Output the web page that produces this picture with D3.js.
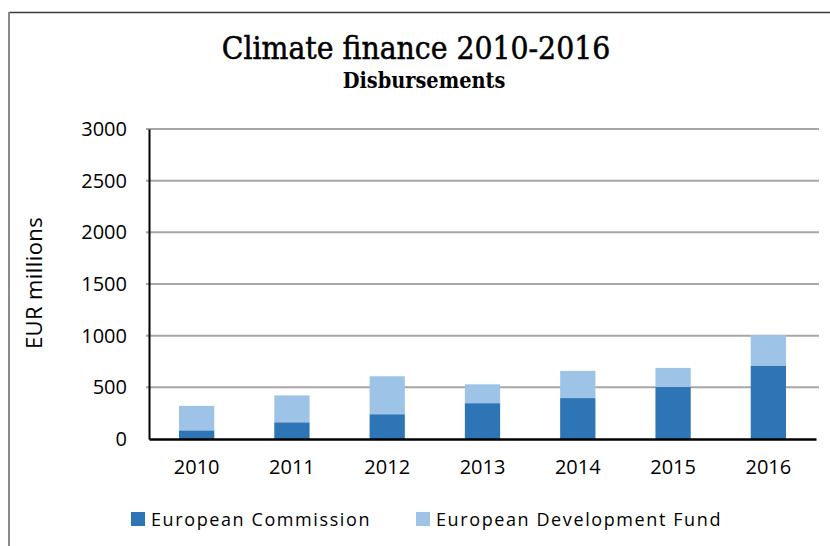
<!DOCTYPE html>
<html>
<head>
<meta charset="utf-8">
<script src="https://cdn.jsdelivr.net/npm/d3@7"></script>
<style>
  html, body { margin: 0; padding: 0; background: #ffffff; }
  svg { display: block; }
</style>
</head>
<body>
<svg id="chart" width="830" height="546"></svg>
<script>
// Climate finance disbursements, EUR millions
const years = ["2010", "2011", "2012", "2013", "2014", "2015", "2016"];
const commission = [84, 162, 240, 347, 396, 503, 711];
const developmentFund = [237, 260, 367, 182, 263, 185, 295];
const yTicks = [0, 500, 1000, 1500, 2000, 2500, 3000];
const seriesNames = ["European Commission", "European Development Fund"];
const seriesColors = ["#2e75b6", "#9dc3e6"];

const svg = d3.select("#chart");
const W = 830, H = 546;
const margin = { left: 149, right: 14, top: 129, bottom: 107 };
const plotW = W - margin.left - margin.right;
const plotH = H - margin.top - margin.bottom;

// Outer frame (top and left edges)
svg.append("line").attr("x1", 9).attr("x2", W).attr("y1", 12.5).attr("y2", 12.5)
  .attr("stroke", "#3a3a3a").attr("stroke-width", 1.5);
svg.append("line").attr("x1", 9).attr("x2", 9).attr("y1", 12).attr("y2", H)
  .attr("stroke", "#8a8a8a").attr("stroke-width", 2);

// Titles
svg.append("text").attr("x", 416).attr("y", 59).attr("text-anchor", "middle")
  .style("font-family", "'DejaVu Serif', serif").style("font-stretch", "condensed")
  .style("font-size", "31.5px").attr("fill", "#000")
  .attr("stroke", "#000").attr("stroke-width", 0.5)
  .text("Climate finance 2010-2016");
svg.append("text").attr("x", 424).attr("y", 88).attr("text-anchor", "middle")
  .style("font-family", "'DejaVu Serif', serif").style("font-stretch", "condensed")
  .style("font-size", "21.5px").style("font-weight", "bold").attr("fill", "#000")
  .text("Disbursements");

const g = svg.append("g").attr("transform", `translate(${margin.left},${margin.top})`);

const x = d3.scaleBand().domain(years).range([0, plotW]).paddingInner(0.63).paddingOuter(0.315);
const y = d3.scaleLinear().domain([0, 3000]).range([plotH, 0]);

// Gridlines
g.append("g").selectAll("line").data(yTicks.filter(d => d > 0)).join("line")
  .attr("x1", -3).attr("x2", plotW + 3)
  .attr("y1", d => y(d)).attr("y2", d => y(d))
  .attr("stroke", "#a6a6a6").attr("stroke-width", 2);

// Stacked bars
const rows = years.map((yr, i) => ({ year: yr, ec: commission[i], edf: developmentFund[i] }));
const stack = d3.stack().keys(["ec", "edf"])(rows);
g.append("g").selectAll("g").data(stack).join("g")
  .attr("fill", (d, i) => seriesColors[i])
  .selectAll("rect").data(d => d).join("rect")
  .attr("x", d => x(d.data.year))
  .attr("width", x.bandwidth())
  .attr("y", d => y(d[1]))
  .attr("height", d => y(d[0]) - y(d[1]));

// Axes
const tickFont = "'Open Sans', 'Liberation Sans', sans-serif";
const yAxis = g.append("g").call(d3.axisLeft(y).tickValues(yTicks).tickFormat(d3.format("d")).tickSize(0).tickPadding(22));
yAxis.select(".domain").attr("stroke", "#000").attr("stroke-width", 2);
yAxis.selectAll("text").style("font-family", tickFont).style("font-size", "20px").attr("fill", "#000");

const xAxis = g.append("g").attr("transform", `translate(0,${plotH})`)
  .call(d3.axisBottom(x).tickSize(0).tickPadding(21));
xAxis.select(".domain").attr("stroke", "#000").attr("stroke-width", 2.5);
xAxis.selectAll("text").style("font-family", tickFont).style("font-size", "20px").attr("fill", "#000");

// Y axis title
svg.append("text").attr("transform", "translate(33,283) rotate(-90)")
  .attr("text-anchor", "middle").attr("dominant-baseline", "central")
  .style("font-family", tickFont).style("font-size", "22px").style("letter-spacing", "0.4px")
  .attr("fill", "#000")
  .text("EUR millions");

// Legend
const legendX = [131, 416];
const legend = svg.append("g").selectAll("g").data(seriesNames).join("g")
  .attr("transform", (d, i) => `translate(${legendX[i]},512)`);
legend.append("rect").attr("width", 14).attr("height", 14)
  .attr("fill", (d, i) => seriesColors[i]);
legend.append("text").attr("x", 20).attr("y", 7).attr("dominant-baseline", "central")
  .style("font-family", tickFont).style("font-size", "18px").style("letter-spacing", "1.6px")
  .attr("fill", "#000").text(d => d);
</script>
</body>
</html>
